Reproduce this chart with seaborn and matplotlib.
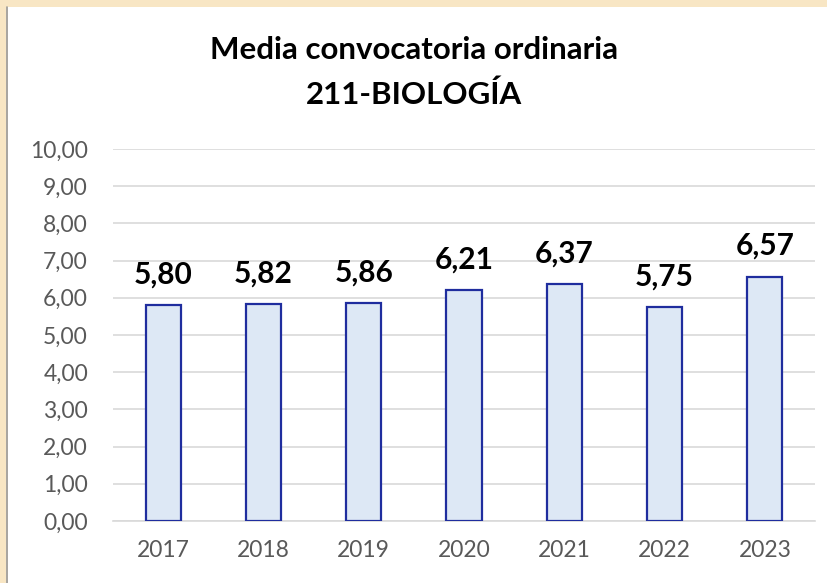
import matplotlib
matplotlib.use("Agg")
import matplotlib.pyplot as plt
import seaborn as sns
import pandas as pd
from matplotlib.patches import Rectangle
from matplotlib.lines import Line2D

years = ["2017", "2018", "2019", "2020", "2021", "2022", "2023"]
media = [5.80, 5.82, 5.86, 6.21, 6.37, 5.75, 6.57]
yticks = [0, 1, 2, 3, 4, 5, 6, 7, 8, 9, 10]

df = pd.DataFrame({"year": years, "media": media})

sns.set_theme(style="white")
plt.rcParams["font.family"] = ["Lato", "DejaVu Sans"]

fig = plt.figure(figsize=(8.28, 5.83), dpi=100)
fig.patch.set_facecolor("#f8e6c4")
W, H = 828, 583
# white panel with grey left border
fig.patches.append(Rectangle((8 / W, 0), 1, 1 - 7 / H, transform=fig.transFigure,
                             facecolor="white", edgecolor="none", zorder=-5))
fig.lines.append(Line2D([7.5 / W, 7.5 / W], [0, 1 - 7 / H], transform=fig.transFigure,
                        color="#9a9a9a", lw=1.2, zorder=-4))

ax = fig.add_axes([113 / W, 1 - 521 / H, 702 / W, 372 / H])
ax.set_facecolor("none")
ax.set_zorder(2)

sns.barplot(data=df, x="year", y="media", color="#dde8f5", edgecolor="#1f2d9e",
            linewidth=1.6, width=0.35, saturation=1, ax=ax, zorder=3)

labels = [f"{v:.2f}".replace(".", ",") for v in media]
ax.bar_label(ax.containers[0], labels=labels, padding=12, fontsize=21.5,
             fontweight="bold", color="black")

ax.set_ylim(0, 10)
ax.set_xlim(-0.5, 6.5)
ax.set_yticks(yticks)
ax.set_yticklabels([f"{t:.2f}".replace(".", ",") for t in yticks])
ax.yaxis.grid(True, color="#d9d9d9", linewidth=1.2, zorder=0)
ax.set_axisbelow(True)
for s in ["top", "right", "left"]:
    ax.spines[s].set_visible(False)
ax.spines["bottom"].set_color("#d9d9d9")
ax.spines["bottom"].set_linewidth(1.2)
ax.tick_params(axis="both", length=0, labelsize=16.5, labelcolor="#595959")
ax.tick_params(axis="y", pad=18)
ax.tick_params(axis="x", pad=14)
ax.set_xlabel("")
ax.set_ylabel("")

fig.text(0.5, 1 - 50 / H, "Media convocatoria ordinaria", ha="center", va="center",
         fontsize=22.5, fontweight="bold", color="black")
fig.text(0.5, 1 - 95 / H, "211-BIOLOGÍA", ha="center", va="center",
         fontsize=22.5, fontweight="bold", color="black")

fig.savefig("out.png", dpi=100, facecolor=fig.get_facecolor())
